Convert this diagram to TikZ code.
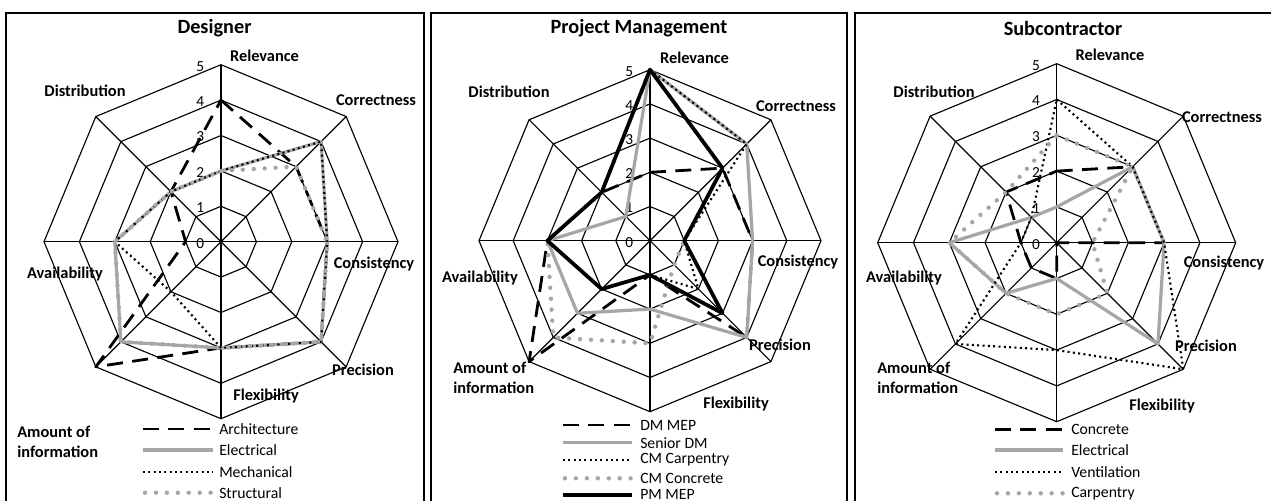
\documentclass[tikz,border=0pt]{standalone}
\usepackage{fontspec}
\setmainfont{Carlito}
\definecolor{grayc}{RGB}{166,166,166}
\newcommand\radargrid{%
  \foreach \l in {1,...,5}{\draw[gridline] (90:{\l*\RU}) -- (45:{\l*\RU}) -- (0:{\l*\RU}) -- (-45:{\l*\RU}) -- (-90:{\l*\RU}) -- (-135:{\l*\RU}) -- (180:{\l*\RU}) -- (135:{\l*\RU}) -- cycle;}
  \foreach \a in {0,45,...,315}{\draw[gridline] (0,0) -- (\a:{5*\RU});}
}
\newcommand\radarseries[9]{\draw[#1] (90:{#2*\RU}) -- (45:{#3*\RU}) -- (0:{#4*\RU}) -- (-45:{#5*\RU}) -- (-90:{#6*\RU}) -- (-135:{#7*\RU}) -- (180:{#8*\RU}) -- (135:{#9*\RU}) -- cycle;}
\begin{document}
\begin{tikzpicture}[x=0.75pt,y=-0.75pt,
  gridline/.style={line width=0.85pt},
  frame/.style={line width=1.3pt},
  ttl/.style={font=\fontsize{15.2}{17}\selectfont\bfseries, inner sep=0pt},
  axl/.style={font=\fontsize{12.3}{13}\selectfont\bfseries, inner sep=0pt},
  axlm/.style={font=\fontsize{12.3}{15}\selectfont\bfseries, inner sep=0pt, align=left, anchor=west},
  tick/.style={font=\fontsize{11.5}{12}\selectfont, anchor=east, inner sep=0pt},
  leg/.style={font=\fontsize{11.8}{13}\selectfont, anchor=west, inner sep=0pt},
  sdash/.style={line width=2.1pt, dash pattern=on 12pt off 7pt, line join=round},
  sgray/.style={line width=2.4pt, draw=grayc, line join=round},
  sdot/.style={line width=1.6pt, dash pattern=on 1.5pt off 2.5pt, line join=round},
  sgdot/.style={line width=3.3pt, draw=grayc, line cap=round, dash pattern=on 0pt off 8.2pt, line join=round},
  sthick/.style={line width=2.8pt, line join=round},
]
\useasboundingbox (0,0) rectangle (1271,500);
\clip (0,0) rectangle (1271,500);
\fill[white] (0,0) rectangle (1271,500);
% frames
\draw[frame] (6,13) rectangle (424,510);
\draw[frame] (431,13) rectangle (847,510);
\draw[frame] (855,13) rectangle (1280,510);

% ---------------- Panel 1: Designer
\def\RU{35.4}
\begin{scope}[shift={(221,241.7)}, y=0.75pt]
  \radargrid
  \foreach \l in {0,...,5}{\node[tick] (p1tick\l) at (-16.5,{\l*\RU-1.5}) {\l};}
  \radarseries{sdash}{4}{3}{3}{4}{3}{5}{1}{2}
  \radarseries{sgray}{2}{4}{3}{4}{3}{4}{3}{2}
  \radarseries{sdot}{2}{4}{3}{4}{3}{2}{3}{2}
  \radarseries{sgdot}{2}{3}{3}{4}{3}{4}{3}{2}
\end{scope}
\node[ttl] (p1title) at (214.5,28) {Designer};
\node[axl] (p1rel) at (264.5,55.5) {Relevance};
\node[axl] (p1dis) at (85,91) {Distribution};
\node[axl] (p1cor) at (376,100) {Correctness};
\node[axl] (p1con) at (374,264) {Consistency};
\node[axl] (p1ava) at (65,274) {Availability};
\node[axl] (p1pre) at (363,370) {Precision};
\node[axl] (p1fle) at (266,396) {Flexibility};
\node[axlm] (p1amo) at (17,442) {Amount of\\information};
\draw[sdash] (143,429) -- (213,429);
\draw[sgray] (143,450) -- (213,450);
\draw[sdot] (143,471.7) -- (213,471.7);
\draw[sgdot] (145,492.7) -- (213,492.7);
\node[leg] (p1l1) at (219,429) {Architecture};
\node[leg] (p1l2) at (219,450) {Electrical};
\node[leg] (p1l3) at (219,471.7) {Mechanical};
\node[leg] (p1l4) at (219,492.7) {Structural};

% ---------------- Panel 2: Project Management
\def\RU{34.2}
\begin{scope}[shift={(650,240.7)}, y=0.75pt]
  \radargrid
  \foreach \l in {0,...,5}{\node[tick] (p2tick\l) at (-16.5,{\l*\RU-1.5}) {\l};}
  \radarseries{sdash}{2}{3}{3}{4}{1}{5}{3}{2}
  \radarseries{sgray}{5}{4}{3}{4}{2}{3}{3}{1}
  \radarseries{sdot}{5}{4}{1}{2}{1}{2}{3}{2}
  \radarseries{sgdot}{5}{3}{1}{1}{3}{4}{3}{2}
  \radarseries{sthick}{5}{3}{1}{3}{1}{2}{3}{2}
\end{scope}
\node[ttl] (p2title) at (639,28) {Project Management};
\node[axl] (p2rel) at (694.5,58) {Relevance};
\node[axl] (p2dis) at (509,92) {Distribution};
\node[axl] (p2cor) at (796,106) {Correctness};
\node[axl] (p2con) at (798,262) {Consistency};
\node[axl] (p2ava) at (480,278) {Availability};
\node[axl] (p2pre) at (780,345) {Precision};
\node[axl] (p2fle) at (736,404) {Flexibility};
\node[axlm] (p2amo) at (453,378) {Amount of\\information};
\draw[sdash] (563,425) -- (632,425);
\draw[sgray] (563,442.7) -- (632,442.7);
\draw[sdot] (563,460) -- (632,460);
\draw[sgdot] (565,478.3) -- (632,478.3);
\draw[sthick] (563,495) -- (632,495);
\node[leg] (p2l1) at (640,425) {DM MEP};
\node[leg] (p2l2) at (640,442.7) {Senior DM};
\node[leg] (p2l3) at (640,460) {CM Carpentry};
\node[leg] (p2l4) at (640,478.3) {CM Concrete};
\node[leg] (p2l5) at (640,494) {PM MEP};

% ---------------- Panel 3: Subcontractor
\def\RU{35.8}
\begin{scope}[shift={(1056.7,242.7)}, y=0.75pt]
  \radargrid
  \foreach \l in {0,...,5}{\node[tick] (p3tick\l) at (-16.5,{\l*\RU-1.5}) {\l};}
  \radarseries{sdash}{2}{3}{3}{0}{1}{1}{1}{2}
  \radarseries{sgray}{1}{3}{3}{4}{1}{2}{3}{1}
  \radarseries{sdot}{4}{3}{3}{5}{3}{4}{1}{1}
  \radarseries{sgdot}{3}{3}{1}{2}{2}{2}{3}{2}
\end{scope}
\node[ttl] (p3title) at (1063,28) {Subcontractor};
\node[axl] (p3rel) at (1110,55) {Relevance};
\node[axl] (p3dis) at (934,92) {Distribution};
\node[axl] (p3cor) at (1222,117) {Correctness};
\node[axl] (p3con) at (1224,263) {Consistency};
\node[axl] (p3ava) at (904,278) {Availability};
\node[axl] (p3pre) at (1206,346) {Precision};
\node[axl] (p3fle) at (1162,406) {Flexibility};
\node[axlm] (p3amo) at (877,378) {Amount of\\information};
\draw[sdash] (995,429.3) -- (1063,429.3);
\draw[sgray] (995,450) -- (1063,450);
\draw[sdot] (995,471.7) -- (1063,471.7);
\draw[sgdot] (997,493.3) -- (1063,493.3);
\node[leg] (p3l1) at (1071,429.3) {Concrete};
\node[leg] (p3l2) at (1071,450) {Electrical};
\node[leg] (p3l3) at (1071,471.7) {Ventilation};
\node[leg] (p3l4) at (1071,493.3) {Carpentry};
\end{tikzpicture}
\end{document}
